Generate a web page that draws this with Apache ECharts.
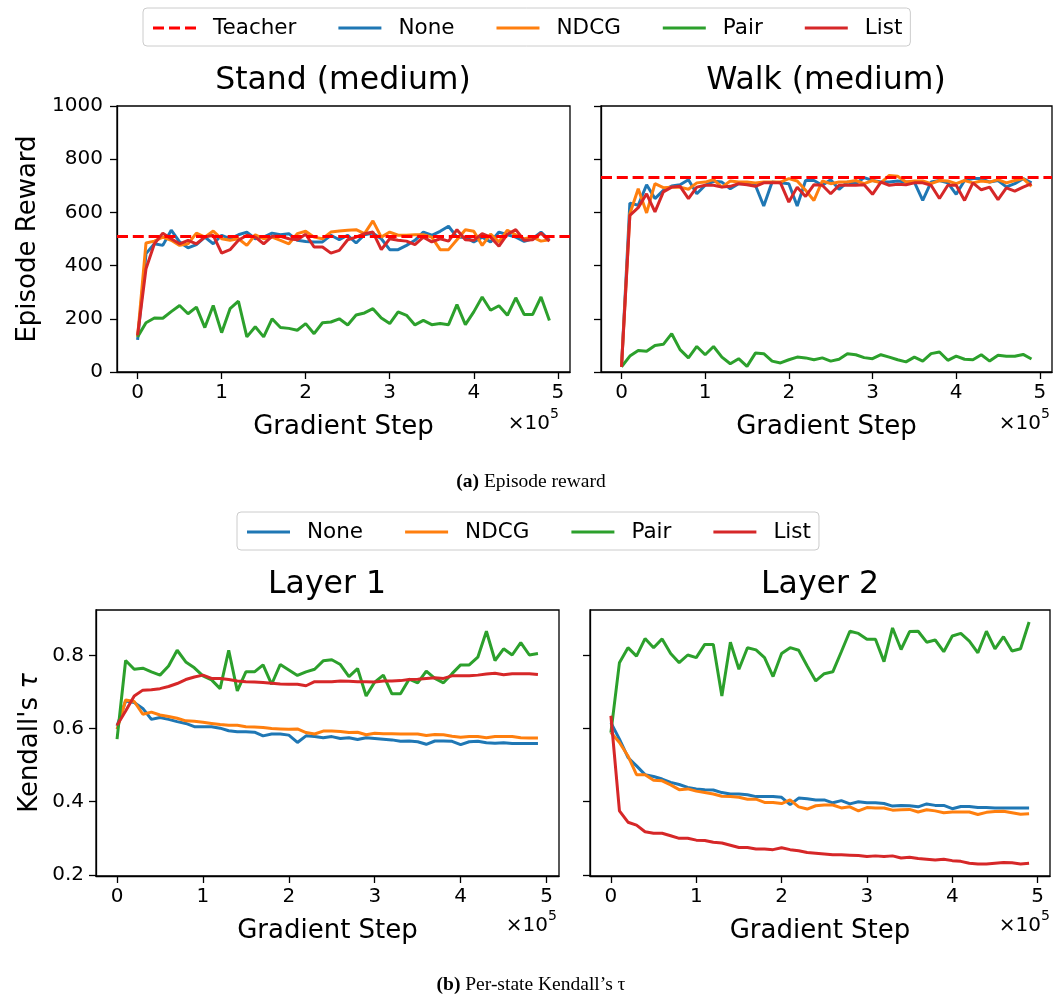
<!DOCTYPE html>
<html>
<head>
<meta charset="utf-8">
<script src="https://cdn.jsdelivr.net/npm/echarts@6/dist/echarts.min.js"></script>
<style>html,body{margin:0;padding:0;background:#fff;}#c{width:1057px;height:999px;}</style>
</head>
<body>
<div id="c"></div>
<script>
// Gradient steps (x 1e5)
const steps = [0,0.1,0.2,0.3,0.4,0.5,0.6,0.7,0.8,0.9,1.0,1.1,1.2,1.3,1.4,1.5,1.6,1.7,1.8,1.9,2.0,2.1,2.2,2.3,2.4,2.5,2.6,2.7,2.8,2.9,3.0,3.1,3.2,3.3,3.4,3.5,3.6,3.7,3.8,3.9,4.0,4.1,4.2,4.3,4.4,4.5,4.6,4.7,4.8,4.9];
const xTicks = [0,1,2,3,4,5];
const rewardTicks = [0,200,400,600,800,1000];
const tauTicks = [0.2,0.4,0.6,0.8];
const methods = ['None','NDCG','Pair','List'];
const panelTitles = ['Stand (medium)','Walk (medium)','Layer 1','Layer 2'];
const teacher = [512, 731];

// Episode reward, Stand (medium)
const standNone = [121,445,482,476,533,489,467,479,507,482,514,501,516,526,501,507,522,516,520,495,491,489,489,514,497,514,485,516,522,501,460,460,476,495,526,514,529,548,507,507,489,507,489,526,516,507,491,501,526,495];
const standNDCG = [132,485,492,507,495,476,482,522,507,530,501,495,501,476,516,501,507,495,482,520,529,507,501,526,530,533,535,520,568,507,526,514,514,516,516,507,460,460,497,535,529,476,518,489,533,516,501,507,492,497];
const standPair = [132,185,203,202,227,250,219,244,167,250,148,238,266,132,170,132,200,167,164,157,182,144,185,188,200,177,214,222,238,203,182,226,213,177,194,178,182,178,253,178,226,282,232,249,213,279,216,216,282,194];
const standList = [138,388,482,522,501,482,495,482,507,514,447,460,495,514,507,482,510,510,501,497,518,470,470,447,457,497,507,520,526,460,501,495,492,479,507,489,501,492,535,497,495,520,507,473,518,535,495,497,522,492];

// Episode reward, Walk (medium)
const walkNone = [19,635,627,704,652,683,699,704,723,670,702,717,714,689,708,708,702,624,714,711,708,624,720,720,702,723,687,714,708,731,720,714,714,718,714,714,645,714,720,711,668,720,727,727,714,720,696,708,727,711];
const walkNDCG = [19,595,689,598,708,693,695,695,687,711,714,723,695,718,714,714,711,714,714,714,727,718,683,645,718,708,714,714,720,708,720,711,739,736,714,718,718,708,720,718,708,720,711,718,714,723,711,720,727,698];
const walkPair = [19,60,81,78,100,104,144,84,53,96,65,96,56,31,50,21,71,69,41,34,46,56,53,46,53,41,48,69,65,54,50,65,56,46,38,56,41,69,75,44,60,48,46,65,41,63,59,59,66,49];
const walkList = [19,589,618,670,602,677,695,698,652,695,702,702,695,698,708,704,698,711,711,711,639,695,660,704,702,670,702,702,702,704,668,714,702,706,704,711,711,702,652,702,702,645,711,685,695,648,692,680,695,708];

// Kendall's tau, Layer 1
const l1None = [0.607,0.675,0.671,0.655,0.625,0.630,0.625,0.619,0.614,0.605,0.605,0.605,0.601,0.594,0.591,0.591,0.590,0.580,0.585,0.585,0.582,0.562,0.580,0.578,0.575,0.578,0.573,0.575,0.570,0.575,0.573,0.571,0.569,0.565,0.566,0.564,0.557,0.566,0.566,0.565,0.556,0.564,0.565,0.561,0.560,0.561,0.559,0.559,0.559,0.559];
const l1NDCG = [0.598,0.678,0.674,0.639,0.645,0.637,0.633,0.628,0.621,0.620,0.617,0.614,0.611,0.609,0.609,0.605,0.604,0.603,0.600,0.599,0.598,0.599,0.589,0.585,0.593,0.593,0.592,0.589,0.590,0.583,0.587,0.586,0.586,0.585,0.585,0.585,0.581,0.584,0.583,0.579,0.576,0.578,0.578,0.575,0.578,0.578,0.578,0.575,0.574,0.574];
const l1Pair = [0.571,0.786,0.762,0.765,0.755,0.746,0.771,0.814,0.782,0.766,0.744,0.733,0.709,0.814,0.703,0.755,0.755,0.774,0.721,0.775,0.760,0.745,0.755,0.762,0.785,0.788,0.775,0.742,0.764,0.689,0.727,0.746,0.695,0.695,0.735,0.725,0.757,0.737,0.725,0.750,0.774,0.774,0.795,0.866,0.786,0.818,0.801,0.835,0.801,0.805];
const l1List = [0.609,0.648,0.689,0.705,0.706,0.709,0.715,0.723,0.734,0.741,0.746,0.737,0.737,0.734,0.730,0.728,0.727,0.726,0.724,0.722,0.721,0.721,0.717,0.728,0.728,0.728,0.730,0.729,0.728,0.728,0.727,0.730,0.730,0.731,0.734,0.735,0.737,0.739,0.737,0.744,0.744,0.744,0.746,0.749,0.751,0.747,0.750,0.750,0.750,0.748];

// Kendall's tau, Layer 2
const l2None = [0.616,0.571,0.521,0.498,0.474,0.469,0.462,0.453,0.447,0.439,0.435,0.433,0.432,0.425,0.421,0.421,0.419,0.414,0.414,0.414,0.412,0.392,0.410,0.408,0.405,0.405,0.397,0.403,0.394,0.400,0.397,0.397,0.395,0.388,0.390,0.389,0.386,0.394,0.390,0.390,0.381,0.387,0.387,0.384,0.384,0.383,0.383,0.383,0.383,0.383];
const l2NDCG = [0.589,0.562,0.525,0.474,0.474,0.459,0.457,0.446,0.433,0.435,0.429,0.425,0.421,0.415,0.414,0.412,0.407,0.407,0.398,0.398,0.395,0.405,0.386,0.380,0.389,0.391,0.391,0.383,0.386,0.375,0.384,0.383,0.383,0.377,0.378,0.379,0.372,0.378,0.375,0.370,0.372,0.372,0.372,0.365,0.371,0.373,0.374,0.370,0.366,0.367];
const l2Pair = [0.589,0.780,0.821,0.798,0.846,0.821,0.845,0.805,0.780,0.801,0.794,0.830,0.830,0.689,0.836,0.762,0.821,0.815,0.794,0.742,0.805,0.821,0.814,0.771,0.730,0.750,0.755,0.810,0.866,0.860,0.844,0.844,0.783,0.875,0.816,0.865,0.866,0.836,0.842,0.810,0.853,0.860,0.839,0.807,0.866,0.818,0.851,0.812,0.818,0.891];
const l2List = [0.635,0.375,0.344,0.336,0.318,0.314,0.314,0.307,0.300,0.300,0.295,0.294,0.289,0.287,0.281,0.275,0.275,0.271,0.271,0.269,0.274,0.269,0.266,0.261,0.259,0.257,0.255,0.255,0.254,0.253,0.250,0.252,0.250,0.252,0.246,0.248,0.245,0.243,0.241,0.243,0.239,0.237,0.232,0.230,0.230,0.232,0.234,0.233,0.230,0.232];

const panels = [
  [standNone, standNDCG, standPair, standList],
  [walkNone, walkNDCG, walkPair, walkList],
  [l1None, l1NDCG, l1Pair, l1List],
  [l2None, l2NDCG, l2Pair, l2List]
];

const colors = {None:'#1f77b4', NDCG:'#ff7f0e', Pair:'#2ca02c', List:'#d62728', Teacher:'#ff0000'};
const FONT = 'DejaVu Sans';
const LW = 3;
const TICKFS = 20, LABELFS = 26, TITLEFS = 31.5, LEGFS = 21.5;

const grids = [
  {left:117, top:106, width:453, height:266},
  {left:601, top:106, width:451, height:266},
  {left:96, top:610, width:463, height:266},
  {left:590, top:610, width:460, height:266}
];

const pairs = vals => steps.map((x,i)=>[x, vals[i]]);

const xAxes = grids.map((g,i)=>({
  type:'value', gridIndex:i, min:-0.245, max:5.145,
  name:'Gradient Step', nameLocation:'middle', nameGap:42,
  nameTextStyle:{fontSize:LABELFS, color:'#000', fontFamily:FONT},
  axisLine:{show:true, onZero:false, lineStyle:{color:'#000', width:1.3}},
  axisTick:{show:true, customValues:xTicks, length:7, lineStyle:{color:'#000', width:1.3}},
  axisLabel:{show:true, customValues:xTicks, fontSize:TICKFS, color:'#000', fontFamily:FONT, margin:11, formatter:v=>String(v)},
  splitLine:{show:false}
}));

const yAxes = grids.map((g,i)=>{
  const top = i<2;
  const base = {
    type:'value', gridIndex:i,
    axisLine:{show:true, onZero:false, lineStyle:{color:'#000', width:1.3}},
    splitLine:{show:false},
    nameLocation:'middle',
    nameTextStyle:{fontSize:LABELFS, color:'#000', fontFamily:FONT, rich:{i:{fontSize:LABELFS, fontStyle:'italic', fontFamily:FONT, color:'#000'}}}
  };
  if (top) {
    Object.assign(base, {min:0, max:1000, interval:200,
      axisTick:{show:true, length:7, lineStyle:{color:'#000', width:1.3}},
      axisLabel:{show:i===0, fontSize:TICKFS, color:'#000', fontFamily:FONT, margin:14, formatter:v=>String(v)}});
    if (i===0) { base.name='Episode Reward'; base.nameGap=76; }
  } else {
    Object.assign(base, {min:0.197, max:0.924,
      axisTick:{show:true, customValues:tauTicks, length:7, lineStyle:{color:'#000', width:1.3}},
      axisLabel:{show:i===2, customValues:tauTicks, fontSize:TICKFS, color:'#000', fontFamily:FONT, margin:12, formatter:v=>v.toFixed(1)}});
    if (i===2) { base.name="Kendall's {i|τ}"; base.nameGap=53; }
  }
  return base;
});

const series = [];
panels.forEach((p,i)=>{
  if (i<2) {
    series.push({
      name:'Teacher', type:'line', xAxisIndex:i, yAxisIndex:i, data:[], symbol:'none',
      lineStyle:{color:colors.Teacher, width:LW, type:[11,4.8]}, itemStyle:{color:colors.Teacher},
      markLine:{silent:true, symbol:['none','none'], label:{show:false},
        lineStyle:{color:colors.Teacher, width:LW, type:[11,4.8]}, emphasis:{disabled:true},
        data:[{yAxis:teacher[i]}]}
    });
  }
  methods.forEach((m,k)=>{
    series.push({
      name:m, type:'line', xAxisIndex:i, yAxisIndex:i, data:pairs(p[k]), symbol:'none',
      lineStyle:{color:colors[m], width:LW}, itemStyle:{color:colors[m]}, emphasis:{disabled:true}
    });
  });
});

const dashIcon = 'path://M0,0h11v3h-11z M16,0h11v3h-11z M32,0h11v3h-11z';
const solidIcon = 'path://M0,0h43v3h-43z';
const legItem = n => ({name:n, icon: n==='Teacher' ? dashIcon : solidIcon});

const legendBase = {
  orient:'horizontal', itemWidth:43, itemHeight:3, itemGap:42,
  padding:[8,8,6,10], borderColor:'#cccccc', borderWidth:1, borderRadius:4,
  backgroundColor:'rgba(255,255,255,0.8)',
  textStyle:{fontSize:LEGFS, color:'#000', fontFamily:FONT, padding:[0,0,0,12], lineHeight:24},
  selectedMode:false
};

const txt = (x,y,text,opts={}) => ({type:'text', x, y, style:Object.assign({text, fill:'#000', font:'20px "DejaVu Sans"', textAlign:'center', textVerticalAlign:'middle'}, opts)});

const graphics = [];
const titlePos = [[343,81],[826,81],[327,585],[820,585]];
panelTitles.forEach((t,i)=>graphics.push(txt(titlePos[i][0], titlePos[i][1], t, {font:TITLEFS+'px "DejaVu Sans"'})));
// x 10^5 offset texts
const offs = [[559,424],[1050,424],[557,926],[1050,926]];
offs.forEach(([x,y])=>{
  graphics.push(txt(x-9, y, '×10', {textAlign:'right'}));
  graphics.push(txt(x, y-10, '5', {textAlign:'right', font:'14px "DejaVu Sans"'}));
});
graphics.push({type:'text', x:531, y:482, style:{text:'{b|(a)} Episode reward', textAlign:'center', textVerticalAlign:'middle', fill:'#000', font:'19.5px "Liberation Serif"', rich:{b:{fontWeight:'bold', fontSize:19.5, fontFamily:'Liberation Serif', fill:'#000'}}}});
graphics.push({type:'text', x:531, y:985, style:{text:"{b|(b)} Per-state Kendall’s τ", textAlign:'center', textVerticalAlign:'middle', fill:'#000', font:'19.5px "Liberation Serif"', rich:{b:{fontWeight:'bold', fontSize:19.5, fontFamily:'Liberation Serif', fill:'#000'}}}});

const chart = echarts.init(document.getElementById('c'), null, {renderer:'canvas'});
chart.setOption({
  animation:false,
  backgroundColor:'#fff',
  textStyle:{fontFamily:FONT},
  grid:grids.map(g=>Object.assign({show:true, borderColor:'#000', borderWidth:1.3, backgroundColor:'transparent', containLabel:false}, g)),
  xAxis:xAxes,
  yAxis:yAxes,
  legend:[
    Object.assign({}, legendBase, {data:['Teacher','None','NDCG','Pair','List'].map(legItem), left:143, top:8}),
    Object.assign({}, legendBase, {data:['None','NDCG','Pair','List'].map(legItem), left:237, top:512})
  ],
  series,
  graphic:graphics
});
</script>
</body>
</html>
